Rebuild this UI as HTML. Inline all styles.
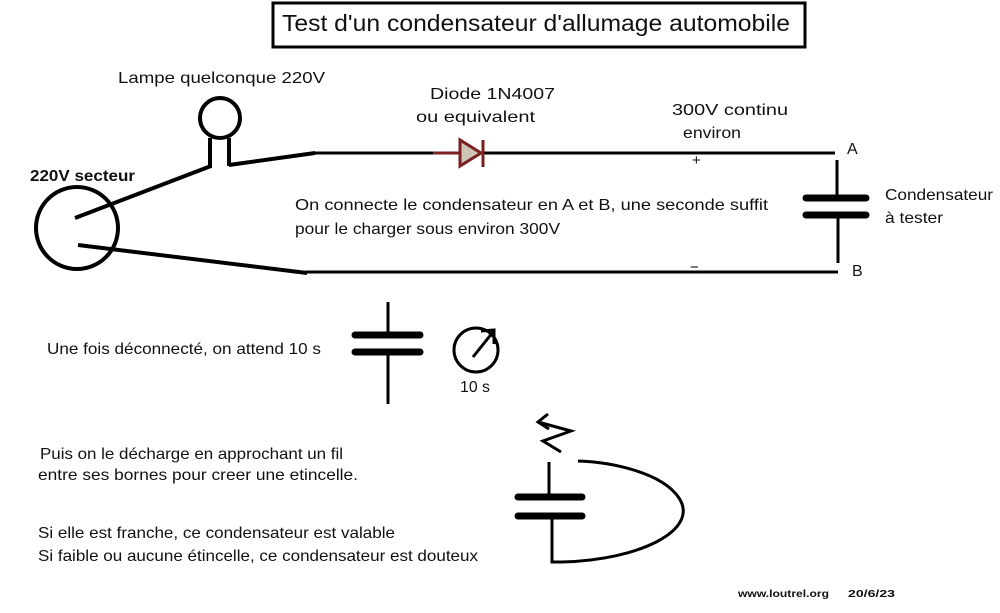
<!DOCTYPE html>
<html><head><meta charset="utf-8"><style>
html,body{margin:0;padding:0;background:#fff;}
svg{display:block;}
text{font-family:"Liberation Sans",sans-serif;fill:#111;}
</style></head><body>
<svg width="1000" height="613" viewBox="0 0 1000 613" xmlns="http://www.w3.org/2000/svg">
<rect x="0" y="0" width="1000" height="613" fill="#fff"/>
<rect x="273" y="3" width="532" height="44" fill="none" stroke="#000" stroke-width="3"/>
<text x="282" y="31" font-size="23" textLength="508" lengthAdjust="spacingAndGlyphs">Test d'un condensateur d'allumage automobile</text>

<g stroke="#000" fill="none" stroke-linecap="butt">
<circle cx="220" cy="118" r="20" stroke-width="4"/>
<line x1="210" y1="138" x2="210" y2="168" stroke-width="4"/>
<line x1="229" y1="138" x2="229" y2="166" stroke-width="4"/>
<circle cx="77" cy="228" r="41" stroke-width="4"/>
<line x1="75" y1="218" x2="211" y2="166" stroke-width="4"/>
<line x1="229" y1="165" x2="315" y2="153" stroke-width="4"/>
<line x1="313" y1="153" x2="435" y2="153" stroke-width="3"/>
<line x1="482" y1="153" x2="835" y2="153" stroke-width="3"/>
<line x1="78" y1="245" x2="307" y2="273" stroke-width="4"/>
<line x1="305" y1="272" x2="838" y2="272" stroke-width="3"/>
<line x1="837" y1="160" x2="837" y2="200" stroke-width="3"/>
<line x1="806" y1="198" x2="866" y2="198" stroke-width="7" stroke-linecap="round"/>
<line x1="806" y1="215" x2="866" y2="215" stroke-width="7" stroke-linecap="round"/>
<line x1="838" y1="215" x2="838" y2="263" stroke-width="3"/>

<line x1="388" y1="302" x2="388" y2="338" stroke-width="3"/>
<line x1="355" y1="335" x2="420" y2="335" stroke-width="7" stroke-linecap="round"/>
<line x1="355" y1="352" x2="420" y2="352" stroke-width="7" stroke-linecap="round"/>
<line x1="388" y1="352" x2="388" y2="404" stroke-width="3"/>
<circle cx="476" cy="350" r="22" stroke-width="3"/>
<line x1="473" y1="357" x2="493" y2="332" stroke-width="3"/>
<polyline points="481,331 494,330 494,344" stroke-width="3"/>

<line x1="549" y1="462" x2="549" y2="497" stroke-width="3"/>
<line x1="518" y1="497" x2="582" y2="497" stroke-width="7" stroke-linecap="round"/>
<line x1="518" y1="516" x2="582" y2="516" stroke-width="7" stroke-linecap="round"/>
<path d="M552,516 L552,562 L562,562 C640,560 700,530 679,498 C662,472 610,462 578,461" stroke-width="3"/>
<polyline points="561,452 543,441 571,431 538,422" stroke-width="3"/>
<polyline points="548,414 538,422 549,429" stroke-width="3"/>
</g>
<polygon points="460,140 460,166 481,153" fill="#cfc5b5" stroke="#7a2020" stroke-width="3"/>
<line x1="433" y1="153" x2="460" y2="153" stroke="#7a2020" stroke-width="3"/>
<line x1="483" y1="140" x2="483" y2="167" stroke="#7a2020" stroke-width="3"/>
<text x="692" y="165" font-size="15" fill="#7a2020">+</text>
<text x="690" y="272" font-size="15" fill="#7a2020">−</text>

<text x="118" y="83" font-size="16" textLength="207" lengthAdjust="spacingAndGlyphs">Lampe  quelconque 220V</text>
<text x="30" y="181" font-size="16" font-weight="bold" textLength="105" lengthAdjust="spacingAndGlyphs">220V secteur</text>
<text x="430" y="99" font-size="16" textLength="125" lengthAdjust="spacingAndGlyphs">Diode 1N4007</text>
<text x="416" y="122" font-size="16" textLength="119" lengthAdjust="spacingAndGlyphs">ou equivalent</text>
<text x="672" y="115" font-size="16" textLength="116" lengthAdjust="spacingAndGlyphs">300V    continu</text>
<text x="683" y="138" font-size="16" textLength="58" lengthAdjust="spacingAndGlyphs">environ</text>
<text x="847" y="154" font-size="16">A</text>
<text x="852" y="276" font-size="16">B</text>
<text x="885" y="200" font-size="16" textLength="108" lengthAdjust="spacingAndGlyphs">Condensateur</text>
<text x="885" y="223" font-size="16" textLength="58" lengthAdjust="spacingAndGlyphs">à tester</text>
<text x="295" y="210" font-size="16" textLength="473" lengthAdjust="spacingAndGlyphs">On connecte le condensateur en A et B, une seconde suffit</text>
<text x="295" y="234" font-size="16" textLength="265" lengthAdjust="spacingAndGlyphs">pour le charger sous environ 300V</text>
<text x="47" y="354" font-size="16" textLength="274" lengthAdjust="spacingAndGlyphs">Une fois déconnecté, on attend 10 s</text>
<text x="460" y="392" font-size="16" textLength="30" lengthAdjust="spacingAndGlyphs">10 s</text>
<text x="40" y="459" font-size="16" textLength="303" lengthAdjust="spacingAndGlyphs">Puis on le décharge en approchant un fil</text>
<text x="38" y="480" font-size="16" textLength="320" lengthAdjust="spacingAndGlyphs">entre ses bornes  pour creer une etincelle.</text>
<text x="38" y="538" font-size="16" textLength="357" lengthAdjust="spacingAndGlyphs">Si elle est  franche, ce condensateur est valable</text>
<text x="38" y="561" font-size="16" textLength="440" lengthAdjust="spacingAndGlyphs">Si faible ou aucune étincelle, ce condensateur est douteux</text>
<text x="738" y="597" font-size="10" font-weight="bold" textLength="91" lengthAdjust="spacingAndGlyphs">www.loutrel.org</text>
<text x="848" y="597" font-size="10" font-weight="bold" textLength="47" lengthAdjust="spacingAndGlyphs">20/6/23</text>
</svg>
</body></html>
